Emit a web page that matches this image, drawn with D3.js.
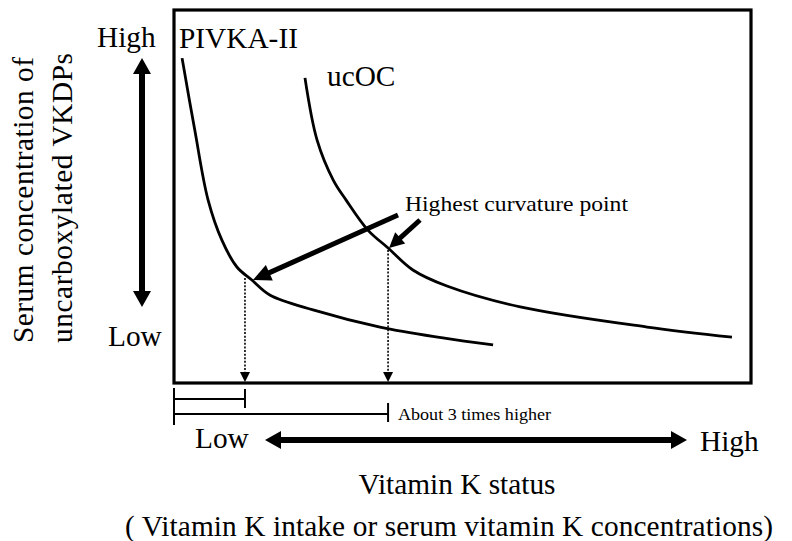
<!DOCTYPE html>
<html>
<head>
<meta charset="utf-8">
<script src="https://cdn.jsdelivr.net/npm/d3@7"></script>
<style>
  html, body { margin: 0; padding: 0; background: #fff; }
  svg { display: block; }
  text { font-family: "Liberation Serif", "Times New Roman", serif; fill: #000; }
</style>
</head>
<body>
<svg id="chart" width="792" height="541"></svg>
<script>
// ---- data (x: vitamin K status, y: serum concentration; arbitrary 0-100 units) ----
const pivkaX = [1.4, 3.6, 5.9, 8.3, 10.9, 13.5, 16.6, 24.1, 35.7, 46.6, 55.3];
const pivkaY = [87.1, 67.8, 49.1, 38.3, 31.1, 27.6, 23.6, 19.6, 15.0, 12.1, 10.2];
const ucocX = [22.7, 24.8, 27.6, 29.8, 33.6, 37.1, 41.4, 47.3, 60.0, 82.0, 96.7];
const ucocY = [81.8, 65.1, 54.4, 49.1, 41.0, 36.2, 30.3, 26.0, 20.4, 15.0, 12.3];
const seriesNames = ["PIVKA-II", "ucOC"];
// highest curvature points (index into the series arrays)
const kneeIndex = [5, 5];
const kneeXPivka = 12.3;   // where the PIVKA-II curve bends most
const kneeXUcoc = 37.1;    // where the ucOC curve bends most
const yLevelLabels = ["High", "Low"];
const xLevelLabels = ["Low", "High"];

const svg = d3.select("#chart");
const x = d3.scaleLinear().domain([0, 100]).range([174, 751]);
const y = d3.scaleLinear().domain([0, 100]).range([383, 10]);

// frame
svg.append("rect")
  .attr("x", x(0)).attr("y", y(100))
  .attr("width", x(100) - x(0)).attr("height", y(0) - y(100))
  .attr("fill", "none").attr("stroke", "#000").attr("stroke-width", 3.2);

// curves
const line = d3.line().x(d => x(d[0])).y(d => y(d[1])).curve(d3.curveCatmullRom.alpha(0.5));
const pivka = pivkaX.map((v, i) => [v, pivkaY[i]]);
const ucoc = ucocX.map((v, i) => [v, ucocY[i]]);
[pivka, ucoc].forEach(s => {
  svg.append("path").attr("d", line(s))
    .attr("fill", "none").attr("stroke", "#000").attr("stroke-width", 2.8)
    .attr("stroke-linecap", "butt");
});

// arrow helper
function arrow(x1, y1, x2, y2, w, hl, hw) {
  const dx = x2 - x1, dy = y2 - y1, L = Math.hypot(dx, dy);
  const ux = dx / L, uy = dy / L, px = -uy, py = ux;
  const bx = x2 - ux * hl, by = y2 - uy * hl;
  svg.append("line").attr("x1", x1).attr("y1", y1)
    .attr("x2", x2 - ux * (hl - 1)).attr("y2", y2 - uy * (hl - 1))
    .attr("stroke", "#000").attr("stroke-width", w);
  svg.append("path")
    .attr("d", `M${x2},${y2}L${bx + px * hw},${by + py * hw}L${bx - px * hw},${by - py * hw}Z`)
    .attr("fill", "#000");
}
function dashedArrow(x1, y1, x2, y2) {
  svg.append("line").attr("x1", x1).attr("y1", y1).attr("x2", x2).attr("y2", y2 - 8)
    .attr("stroke", "#000").attr("stroke-width", 1.6).attr("stroke-dasharray", "2,1.6");
  svg.append("path").attr("d", `M${x2},${y2}L${x2 - 5},${y2 - 10}L${x2 + 5},${y2 - 10}Z`).attr("fill", "#000");
}

// dotted drop lines from highest curvature points
const kp = pivka[kneeIndex[0]], ku = ucoc[kneeIndex[1]];
dashedArrow(x(kneeXPivka), y(kp[1]) - 2, x(kneeXPivka), y(0) - 1);
dashedArrow(x(kneeXUcoc), y(ku[1]) + 2, x(kneeXUcoc), y(0) - 1);

// annotation arrows
arrow(398, 215, x(kp[0]) + 1, y(kp[1]), 5, 18, 8.5);
arrow(420, 220, x(ku[0]) + 1, y(ku[1]), 5, 15, 7.5);
svg.append("text").attr("x", 405).attr("y", 211)
  .attr("font-size", 22).attr("textLength", 223).attr("lengthAdjust", "spacingAndGlyphs")
  .text("Highest  curvature point");

// brackets below axis
function seg(x1, y1, x2, y2, w) {
  svg.append("line").attr("x1", x1).attr("y1", y1).attr("x2", x2).attr("y2", y2)
    .attr("stroke", "#000").attr("stroke-width", w || 1.8);
}
seg(x(0), 388, x(0), 425, 2);
seg(x(0), 399, x(kneeXPivka), 399);
seg(x(kneeXPivka), 389, x(kneeXPivka), 408, 2);
seg(x(0), 414, x(kneeXUcoc), 414);
seg(x(kneeXUcoc), 403, x(kneeXUcoc), 422, 2);
svg.append("text").attr("x", 398).attr("y", 420)
  .attr("font-size", 17).attr("textLength", 153).attr("lengthAdjust", "spacingAndGlyphs")
  .text("About 3 times higher");

// series labels
svg.append("text").attr("x", 179).attr("y", 48).attr("font-size", 29.33).text(seriesNames[0]);
svg.append("text").attr("x", 327).attr("y", 86).attr("font-size", 29.33).text(seriesNames[1]);

// y level labels + arrow
svg.append("text").attr("x", 97).attr("y", 47).attr("font-size", 29.33).text(yLevelLabels[0]);
svg.append("text").attr("x", 108).attr("y", 346).attr("font-size", 29.33).text(yLevelLabels[1]);
arrow(142, 180, 142, 58, 6, 16, 9);
arrow(142, 180, 142, 307, 6, 16, 9);

// x level labels + arrow
svg.append("text").attr("x", 195).attr("y", 448).attr("font-size", 29.33).text(xLevelLabels[0]);
svg.append("text").attr("x", 700).attr("y", 451).attr("font-size", 29.33).text(xLevelLabels[1]);
arrow(470, 440, 265, 440, 6, 16, 9);
arrow(470, 440, 687, 440, 6, 16, 9);

// axis titles
svg.append("text").attr("x", 457).attr("y", 494).attr("font-size", 29.33)
  .attr("text-anchor", "middle").text("Vitamin K status");
svg.append("text").attr("x", 125).attr("y", 536).attr("font-size", 29.33)
  .attr("textLength", 648).attr("lengthAdjust", "spacing")
  .text("( Vitamin K intake or serum vitamin K concentrations)");

svg.append("text").attr("transform", "translate(33,343) rotate(-90)")
  .attr("font-size", 29.33).attr("textLength", 286).attr("lengthAdjust", "spacing")
  .text("Serum concentration of");
svg.append("text").attr("transform", "translate(72,343) rotate(-90)")
  .attr("font-size", 29.33).attr("textLength", 290).attr("lengthAdjust", "spacing")
  .text("uncarboxylated VKDPs");
</script>
</body>
</html>
